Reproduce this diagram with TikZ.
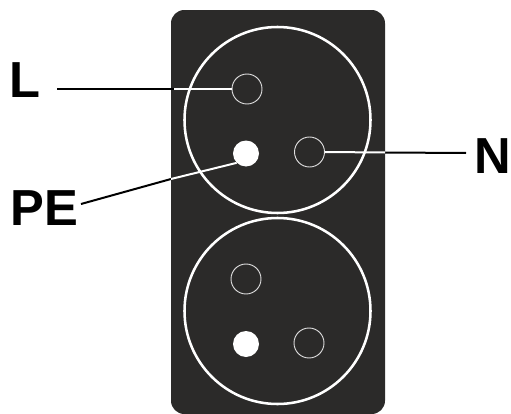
\documentclass[tikz,border=0pt]{standalone}
\usepackage{fontspec}
\setmainfont{Liberation Sans}
\definecolor{plate}{HTML}{2B2A29}
\tikzset{
 px/.style={x=0.75pt,y=-0.75pt},
 socket/.style={circle,draw=white,line width=1.9pt,minimum size=139.5pt,inner sep=0pt},
 pin/.style={circle,draw=white!85!plate,line width=0.7pt,minimum size=22.5pt,inner sep=0pt},
 pe/.style={circle,fill=white,draw=none,minimum size=19.5pt,inner sep=0pt},
 lbl/.style={font=\bfseries\fontsize{38pt}{38pt}\selectfont,inner sep=0pt,text=black},
 leadout/.style={draw=black,line width=1.5pt},
 leadin/.style={draw=white,line width=1.5pt}
}
\begin{document}
\begin{tikzpicture}[px]
\useasboundingbox (0,0) rectangle (511,414);
\fill[plate,rounded corners=10pt] (171,10) rectangle (385,414);
\node[socket] (s1) at (277.5,120) {};
\node[socket] (s2) at (277.5,311) {};
\node[pin] (l1) at (247,89) {};
\node[pe] (pe1) at (246,153.5) {};
\node[pin] (n1) at (309.5,152) {};
\node[pin] (l2) at (246,279) {};
\node[pe] (pe2) at (246,344) {};
\node[pin] (n2) at (309,343) {};
\node[lbl] (L) at (25,80.5) {L};
\node[lbl] (PE) at (44,208.5) {PE};
\node[lbl] (N) at (493,156) {N};
\coordinate (La) at (57,89);
\coordinate (Lb) at (174,89);
\coordinate (Pa) at (81,204);
\coordinate (Pb) at (171,179);
\coordinate (Na) at (466,153);
\coordinate (Nb) at (385,152.5);
\draw[leadout] (La) -- (Lb);
\draw[leadin] (Lb) -- (l1.west);
\draw[leadout] (Pa) -- (Pb);
\draw[leadin] (Pb) -- (pe1.south west);
\draw[leadout] (Na) -- (Nb);
\draw[leadin] (Nb) -- (n1.east);
\end{tikzpicture}
\end{document}
